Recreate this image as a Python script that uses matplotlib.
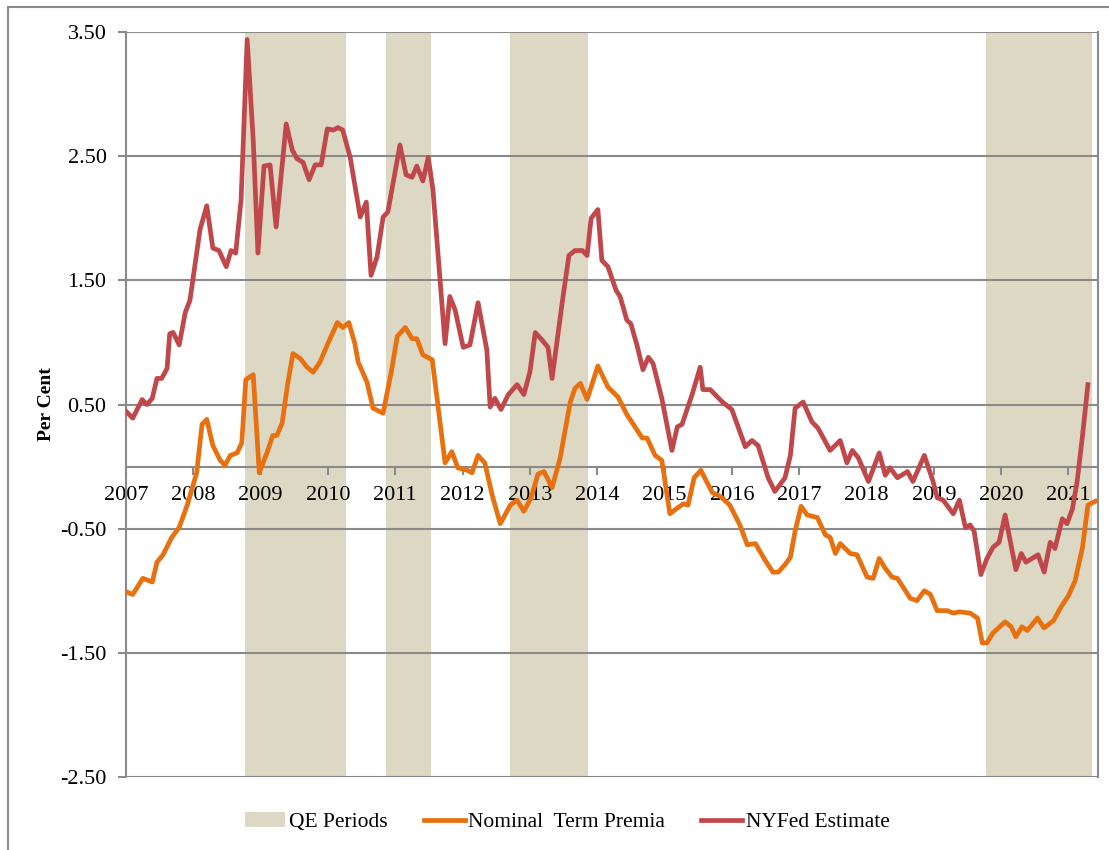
import numpy as np
import matplotlib.pyplot as plt
from matplotlib.patches import Patch, Rectangle
from matplotlib.lines import Line2D

plt.rcParams['font.family'] = ['Liberation Serif', 'DejaVu Serif']

# NYFed estimate (decimal year, per cent)
nyfed_t = [2007.01, 2007.10, 2007.24, 2007.31, 2007.39, 2007.46, 2007.53, 2007.61, 2007.65, 2007.70,
           2007.79, 2007.88, 2007.95, 2008.10, 2008.20, 2008.29, 2008.38, 2008.49, 2008.56, 2008.63,
           2008.71, 2008.80, 2008.89, 2008.96, 2009.05, 2009.14, 2009.23, 2009.38, 2009.47, 2009.54,
           2009.63, 2009.72, 2009.81, 2009.90, 2009.99, 2010.08, 2010.15, 2010.22, 2010.33, 2010.48,
           2010.57, 2010.64, 2010.73, 2010.82, 2010.89, 2011.07, 2011.16, 2011.25, 2011.32, 2011.41,
           2011.49, 2011.56, 2011.74, 2011.81, 2011.89, 2012.01, 2012.11, 2012.23, 2012.36, 2012.41,
           2012.48, 2012.57, 2012.68, 2012.81, 2012.91, 2013.00, 2013.08, 2013.18, 2013.27, 2013.33,
           2013.48, 2013.58, 2013.67, 2013.78, 2013.85, 2013.91, 2014.01, 2014.07, 2014.16, 2014.28,
           2014.34, 2014.44, 2014.50, 2014.59, 2014.68, 2014.76, 2014.83, 2014.96, 2015.11, 2015.19,
           2015.26, 2015.41, 2015.53, 2015.57, 2015.68, 2015.86, 2016.00, 2016.20, 2016.30, 2016.39,
           2016.54, 2016.64, 2016.79, 2016.87, 2016.94, 2017.06, 2017.19, 2017.28, 2017.46, 2017.61,
           2017.71, 2017.79, 2017.88, 2018.03, 2018.19, 2018.28, 2018.35, 2018.46, 2018.61, 2018.69,
           2018.86, 2018.99, 2019.05, 2019.14, 2019.29, 2019.38, 2019.47, 2019.54, 2019.60, 2019.70,
           2019.79, 2019.88, 2019.97, 2020.06, 2020.22, 2020.30, 2020.37, 2020.55, 2020.64, 2020.73,
           2020.80, 2020.91, 2020.98, 2021.06, 2021.13, 2021.21, 2021.29]
nyfed_v = [0.44, 0.39, 0.54, 0.50, 0.55, 0.71, 0.71, 0.79, 1.07, 1.08,
           0.98, 1.24, 1.34, 1.91, 2.10, 1.76, 1.74, 1.61, 1.74, 1.72,
           2.15, 3.44, 2.63, 1.72, 2.42, 2.43, 1.93, 2.76, 2.55, 2.48,
           2.45, 2.31, 2.43, 2.43, 2.72, 2.71, 2.73, 2.71, 2.49, 2.01,
           2.13, 1.54, 1.69, 2.01, 2.05, 2.59, 2.35, 2.33, 2.42, 2.30,
           2.49, 2.23, 0.99, 1.37, 1.26, 0.96, 0.98, 1.32, 0.94, 0.48,
           0.55, 0.46, 0.58, 0.66, 0.58, 0.76, 1.08, 1.02, 0.96, 0.71,
           1.32, 1.70, 1.74, 1.74, 1.70, 2.00, 2.07, 1.66, 1.61, 1.42,
           1.37, 1.18, 1.15, 0.98, 0.78, 0.88, 0.83, 0.55, 0.13, 0.32,
           0.34, 0.58, 0.80, 0.62, 0.62, 0.52, 0.46, 0.16, 0.21, 0.17,
           -0.09, -0.20, -0.09, 0.09, 0.47, 0.52, 0.36, 0.31, 0.13, 0.21,
           0.03, 0.13, 0.07, -0.12, 0.11, -0.07, -0.01, -0.09, -0.04, -0.12,
           0.09, -0.12, -0.25, -0.27, -0.38, -0.27, -0.49, -0.47, -0.52, -0.87,
           -0.74, -0.65, -0.61, -0.39, -0.83, -0.70, -0.77, -0.71, -0.85, -0.61,
           -0.66, -0.42, -0.46, -0.34, -0.12, 0.25, 0.66]

# Nominal term premia (decimal year, per cent)
ntp_t = [2007.01, 2007.10, 2007.25, 2007.39, 2007.46, 2007.55, 2007.68, 2007.79, 2007.91, 2008.05,
         2008.13, 2008.20, 2008.29, 2008.40, 2008.47, 2008.55, 2008.65, 2008.72, 2008.78, 2008.89,
         2008.98, 2009.10, 2009.18, 2009.24, 2009.32, 2009.40, 2009.48, 2009.59, 2009.69, 2009.78,
         2009.88, 2009.99, 2010.14, 2010.22, 2010.31, 2010.40, 2010.45, 2010.58, 2010.67, 2010.82,
         2010.95, 2011.03, 2011.15, 2011.25, 2011.32, 2011.41, 2011.55, 2011.74, 2011.84, 2011.93,
         2012.07, 2012.14, 2012.23, 2012.33, 2012.44, 2012.56, 2012.71, 2012.81, 2012.91, 2013.02,
         2013.12, 2013.21, 2013.33, 2013.45, 2013.60, 2013.67, 2013.75, 2013.85, 2014.01, 2014.16,
         2014.31, 2014.44, 2014.67, 2014.74, 2014.86, 2014.96, 2015.08, 2015.20, 2015.28, 2015.35,
         2015.44, 2015.54, 2015.71, 2015.83, 2015.97, 2016.12, 2016.23, 2016.35, 2016.49, 2016.61,
         2016.69, 2016.79, 2016.87, 2016.94, 2017.03, 2017.12, 2017.27, 2017.39, 2017.46, 2017.54,
         2017.61, 2017.76, 2017.86, 2018.01, 2018.10, 2018.19, 2018.28, 2018.38, 2018.46, 2018.65,
         2018.75, 2018.86, 2018.95, 2019.05, 2019.20, 2019.29, 2019.38, 2019.54, 2019.65, 2019.72,
         2019.79, 2019.88, 2020.06, 2020.15, 2020.22, 2020.31, 2020.39, 2020.54, 2020.64, 2020.78,
         2020.88, 2021.00, 2021.10, 2021.21, 2021.29, 2021.40]
ntp_v = [-1.01, -1.03, -0.90, -0.93, -0.77, -0.71, -0.57, -0.49, -0.31, -0.05,
         0.34, 0.38, 0.17, 0.05, 0.01, 0.09, 0.11, 0.19, 0.70, 0.74,
         -0.05, 0.12, 0.25, 0.25, 0.35, 0.66, 0.91, 0.87, 0.80, 0.76,
         0.84, 0.98, 1.16, 1.12, 1.16, 0.99, 0.84, 0.68, 0.47, 0.43,
         0.79, 1.05, 1.12, 1.03, 1.03, 0.90, 0.86, 0.03, 0.12, -0.01,
         -0.03, -0.05, 0.09, 0.03, -0.23, -0.46, -0.31, -0.27, -0.36, -0.25,
         -0.06, -0.04, -0.17, 0.07, 0.52, 0.63, 0.67, 0.54, 0.81, 0.64,
         0.56, 0.42, 0.23, 0.23, 0.09, 0.05, -0.38, -0.33, -0.30, -0.31,
         -0.09, -0.03, -0.21, -0.24, -0.31, -0.47, -0.63, -0.62, -0.75, -0.85,
         -0.85, -0.79, -0.73, -0.52, -0.32, -0.39, -0.41, -0.55, -0.57, -0.70,
         -0.62, -0.70, -0.71, -0.89, -0.90, -0.74, -0.82, -0.89, -0.90, -1.06,
         -1.08, -1.00, -1.03, -1.16, -1.16, -1.18, -1.17, -1.18, -1.22, -1.42,
         -1.42, -1.34, -1.25, -1.29, -1.37, -1.29, -1.32, -1.22, -1.30, -1.24,
         -1.14, -1.04, -0.92, -0.65, -0.31, -0.28]

qe_start = [2008.77, 2010.86, 2012.71, 2019.78]
qe_end = [2010.27, 2011.53, 2013.86, 2021.35]

years = list(range(2007, 2022))
yticks = [-2.5, -1.5, -0.5, 0.5, 1.5, 2.5, 3.5]

shade = '#DDD8C3'
orange = '#E8700F'
red = '#C0474A'
grey = '#8A8A8A'

fig = plt.figure(figsize=(11.09, 8.5), dpi=100)
ax = fig.add_axes([126 / 1109, 1 - 777 / 850, (1098 - 126) / 1109, (777 - 32) / 850])

for s, e in zip(qe_start, qe_end):
    ax.axvspan(s, e, color=shade, lw=0, zorder=0.2)

ax.plot(ntp_t, ntp_v, color=orange, lw=3.4, zorder=3, solid_joinstyle='round')
ax.plot(nyfed_t, nyfed_v, color=red, lw=3.4, zorder=3, solid_joinstyle='round')

ax.set_xlim(2007.0, 2021.44)
ax.set_ylim(-2.5, 3.5)
ax.set_yticks(yticks)
ax.set_yticklabels(['%.2f' % v for v in yticks])
ax.set_xticks(years)
ax.set_xticklabels([str(y) for y in years])

ax.set_axisbelow(True)
ax.grid(axis='y', color=grey, lw=1.5)
ax.grid(axis='x', visible=False)

for side in ['left', 'right', 'bottom']:
    ax.spines[side].set_color(grey)
    ax.spines[side].set_linewidth(1.5)
ax.spines['top'].set_visible(False)
ax.spines['bottom'].set_position(('data', 0))

ax.tick_params(axis='y', length=6, width=1.5, color=grey, pad=8, labelsize=16)
ax.tick_params(axis='x', length=6, width=1.5, color=grey, pad=8, labelsize=16)

ax.set_ylabel('Per Cent', fontsize=14, fontweight='bold', labelpad=4)

handles = [Patch(color=shade, lw=0),
           Line2D([], [], color=orange, lw=3.4),
           Line2D([], [], color=red, lw=3.4)]
labels = ['QE Periods', 'Nominal  Term Premia', 'NYFed Estimate']
fig.legend(handles, labels, loc='center', bbox_to_anchor=(567 / 1109, 1 - 822 / 850),
           ncol=3, frameon=False, fontsize=15.5, handlelength=1.9, handletextpad=0.15,
           columnspacing=1.7)

# outer frame of the picture
fig.patches.append(Rectangle((8 / 1109, -0.05), 1.2, 1 - 7 / 850 + 0.05, transform=fig.transFigure,
                             fill=False, edgecolor=grey, lw=1.5))

fig.savefig('out.png', dpi=100)
